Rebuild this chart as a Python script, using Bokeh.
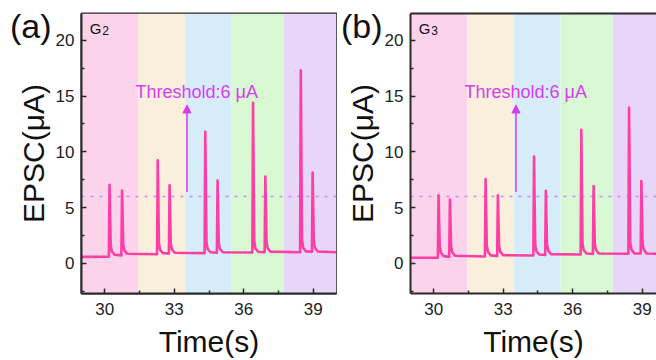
from bokeh.plotting import figure
from bokeh.layouts import row
from bokeh.models import (Range1d, FixedTicker, BoxAnnotation, Span, Label,
                          Arrow, NormalHead, LinearAxis, Spacer)
from bokeh.embed import file_html
from bokeh.resources import INLINE

# ---------------- data ----------------
time_a = [29.00, 30.18, 30.21, 30.26, 30.31, 30.43,
          30.72, 30.75, 30.80, 30.85, 30.97,
          32.26, 32.29, 32.34, 32.39, 32.51,
          32.77, 32.80, 32.85, 32.90, 33.02,
          34.31, 34.34, 34.39, 34.44, 34.56,
          34.84, 34.87, 34.92, 34.97, 35.09,
          36.37, 36.40, 36.45, 36.50, 36.62,
          36.90, 36.93, 36.98, 37.03, 37.15,
          38.43, 38.46, 38.51, 38.56, 38.68,
          38.94, 38.97, 39.02, 39.07, 39.19,
          40.00]
epsc_a = [0.58, 0.60, 7.05, 1.60, 1.05, 0.78,
          0.72, 6.52, 1.70, 1.15, 0.86,
          0.82, 9.25, 1.80, 1.20, 0.92,
          0.88, 7.00, 1.80, 1.25, 0.95,
          0.92, 11.80, 1.90, 1.30, 1.00,
          0.95, 7.43, 1.90, 1.30, 1.00,
          0.97, 14.40, 2.00, 1.35, 1.04,
          1.00, 7.79, 2.00, 1.35, 1.05,
          1.00, 17.30, 2.10, 1.40, 1.08,
          1.05, 8.15, 2.00, 1.40, 1.06,
          1.00]

time_b = [29.00, 30.18, 30.21, 30.26, 30.31, 30.43,
          30.67, 30.70, 30.75, 30.80, 30.92,
          32.21, 32.24, 32.29, 32.34, 32.46,
          32.74, 32.77, 32.82, 32.87, 32.99,
          34.30, 34.33, 34.38, 34.43, 34.55,
          34.81, 34.84, 34.89, 34.94, 35.06,
          36.34, 36.37, 36.42, 36.47, 36.59,
          36.87, 36.90, 36.95, 37.00, 37.12,
          38.40, 38.43, 38.48, 38.53, 38.65,
          38.93, 38.96, 39.01, 39.06, 39.18,
          40.00]
epsc_b = [0.50, 0.52, 6.10, 1.50, 0.95, 0.65,
          0.58, 5.73, 1.55, 1.00, 0.68,
          0.62, 7.55, 1.60, 1.05, 0.72,
          0.66, 6.10, 1.60, 1.05, 0.74,
          0.70, 9.57, 1.70, 1.10, 0.80,
          0.75, 6.50, 1.70, 1.15, 0.83,
          0.80, 11.97, 1.80, 1.20, 0.88,
          0.85, 6.93, 1.80, 1.20, 0.88,
          0.86, 13.98, 1.90, 1.25, 0.90,
          0.88, 7.38, 1.85, 1.25, 0.88,
          0.86]

band_edges = [29.0, 31.45, 33.47, 35.47, 37.73, 40.0]
band_colors = ["#FBD4EC", "#FAEFDC", "#D6ECF9", "#D8F8D4", "#E7D6F8"]

x_ticks = [30, 33, 36, 39]
x_minor = [28.5, 31.5, 34.5, 37.5, 40.5]
y_ticks = [0, 5, 10, 15, 20]
y_minor = [-2.5, 2.5, 7.5, 12.5, 17.5, 22.5]

threshold = 6
arrow_x = 33.55
arrow_from, arrow_to = 6.4, 14.2
threshold_text = "Threshold:6 μA"
panel_letters = ["(a)", "(b)"]
gate_subs = ["2", "3"]
x_label = "Time(s)"
y_label = "EPSC(μA)"

# ---------------- styling ----------------
FONT = "Liberation Sans"
AX = "#2a2a2a"
LINE = "#FF3EA5"
MAG = "#D63CF3"
DOT = "#CF88F2"
PX_PER_S = 256 / 11
LETTER_Y = 21.3


def make_panel(t, v, letter, sub, width, left, right, x_end, outline,
               letter_pull):
    p = figure(width=width, height=360,
               x_range=Range1d(29, x_end), y_range=Range1d(-2.7, 22.4),
               output_backend="svg", toolbar_location=None,
               min_border_left=left, min_border_right=right,
               min_border_top=13, min_border_bottom=67)
    p.grid.visible = False
    p.background_fill_color = "white"
    p.border_fill_color = "white"

    xa, ya = p.below[0], p.left[0]
    xa.ticker = FixedTicker(ticks=x_ticks, minor_ticks=x_minor)
    ya.ticker = FixedTicker(ticks=y_ticks, minor_ticks=y_minor)
    for ax in (xa, ya):
        ax.axis_line_color = AX
        ax.axis_line_width = 2
        ax.major_tick_line_color = AX
        ax.minor_tick_line_color = AX
        ax.major_tick_line_width = 1.5
        ax.minor_tick_line_width = 1.5
        ax.major_tick_in = 5
        ax.major_tick_out = 0
        ax.minor_tick_in = 3
        ax.minor_tick_out = 0
        ax.major_label_text_font = FONT
        ax.major_label_text_font_size = "17px"
        ax.major_label_text_color = "#222222"
        ax.axis_label_text_font = FONT
        ax.axis_label_text_font_size = "30px"
        ax.axis_label_text_font_style = "normal"
        ax.axis_label_text_color = "#111111"
    xa.axis_label = x_label
    xa.major_label_standoff = 9
    xa.axis_label_standoff = 7
    ya.axis_label = y_label
    ya.major_label_standoff = 7
    ya.axis_label_standoff = 3

    # panel letter: an outer left axis whose only tick label is the letter
    letter_axis = LinearAxis(ticker=FixedTicker(ticks=[LETTER_Y]),
                             major_label_overrides={LETTER_Y: letter},
                             axis_line_color=None, major_tick_line_color=None,
                             minor_tick_line_color=None,
                             major_tick_in=0, major_tick_out=0,
                             minor_tick_in=0, minor_tick_out=0,
                             major_label_standoff=-letter_pull,
                             major_label_orientation="horizontal",
                             major_label_text_font=FONT,
                             major_label_text_font_size="34px",
                             major_label_text_color="#111111")
    p.add_layout(letter_axis, "left")

    if outline:
        p.outline_line_color = AX
        p.outline_line_width = 2
        p.outline_line_alpha = 1
    else:
        p.outline_line_color = None
        top = LinearAxis(ticker=FixedTicker(ticks=[]), axis_line_color=AX,
                         axis_line_width=2, major_tick_line_color=None,
                         minor_tick_line_color=None, major_label_standoff=0,
                         major_tick_in=0, major_tick_out=0,
                         minor_tick_in=0, minor_tick_out=0,
                         major_label_text_font_size="1px")
        p.add_layout(top, "above")

    for i, c in enumerate(band_colors):
        p.add_layout(BoxAnnotation(left=band_edges[i], right=band_edges[i + 1],
                                   fill_color=c, fill_alpha=1, line_color=None,
                                   level="underlay"))
    p.add_layout(Span(location=threshold, dimension="width", line_color=DOT,
                      line_width=1.6, line_dash="3 6", level="underlay"))

    p.line(t, v, line_color=LINE, line_width=2.6, line_join="round")

    p.add_layout(Arrow(end=NormalHead(size=8, fill_color=MAG, line_color=MAG,
                                      line_width=1),
                       x_start=arrow_x, y_start=arrow_from,
                       x_end=arrow_x, y_end=arrow_to,
                       line_color=MAG, line_width=1.5))
    p.add_layout(Label(x=31.33, y=15.37, text=threshold_text,
                       text_font=FONT, text_font_size="18px",
                       text_color=MAG, text_baseline="alphabetic"))
    p.add_layout(Label(x=29.36, y=21.04, text="G", text_font=FONT,
                       text_font_size="15px", text_color="#111111",
                       text_baseline="alphabetic"))
    p.add_layout(Label(x=29.90, y=20.92, text=sub, text_font=FONT,
                       text_font_size="12px", text_color="#111111",
                       text_baseline="alphabetic"))
    return p


p1 = make_panel(time_a, epsc_a, panel_letters[0], gate_subs[0],
                331, 74, 1, 40.0, True, 38)
p2 = make_panel(time_b, epsc_b, panel_letters[1], gate_subs[1],
                319, 72, 0, 29 + 247 / PX_PER_S, False, 40)

layout = row(Spacer(width=6, height=360), p1, p2)
open("out.html", "w").write(file_html(layout, INLINE))
